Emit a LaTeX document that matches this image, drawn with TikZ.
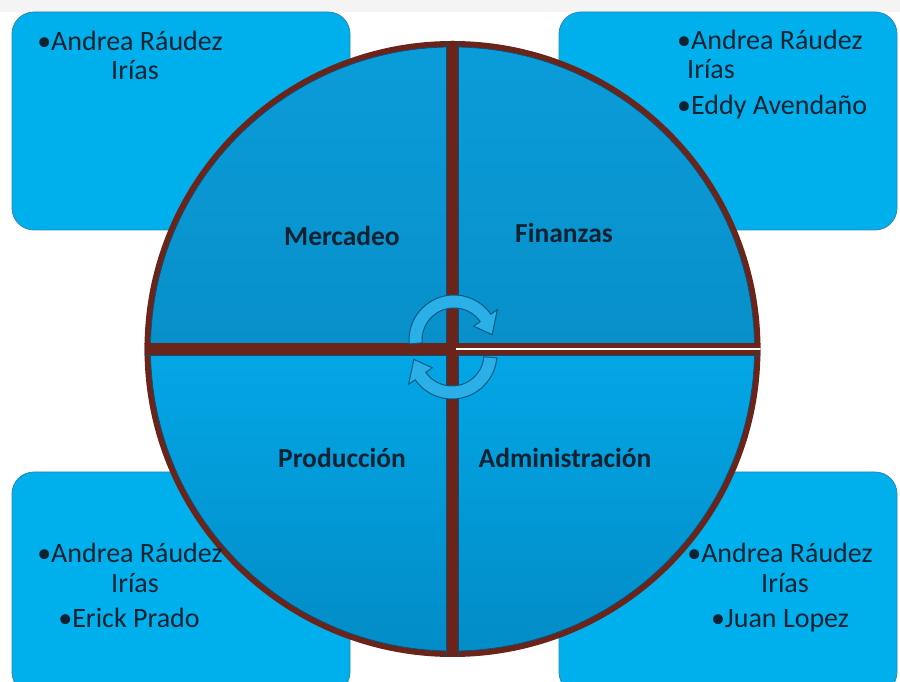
\documentclass[tikz,border=0pt]{standalone}
\usepackage{fontspec}
\setmainfont{Carlito}
\usetikzlibrary{calc}
\definecolor{boxblue}{HTML}{00B0EC}
\definecolor{boxline}{HTML}{2A86B4}
\definecolor{ringbrown}{HTML}{6B2419}
\definecolor{qtopA}{HTML}{0A9DDA}
\definecolor{qtopB}{HTML}{0890CA}
\definecolor{qbotA}{HTML}{03A6E6}
\definecolor{qbotB}{HTML}{028BC5}
\definecolor{qline}{HTML}{0B4F78}
\definecolor{arrowblue}{HTML}{2AB0E6}
\definecolor{arrowline}{HTML}{0A5A85}
\definecolor{textdark}{HTML}{0E2231}
\definecolor{topgray}{HTML}{F4F4F4}
\tikzset{
  namebox/.style={fill=boxblue, draw=boxline, line width=0.8pt, rounded corners=22pt},
  nametext/.style={anchor=base, inner sep=0pt, text=textdark, font=\fontsize{28}{30}\selectfont},
  areatext/.style={anchor=base, inner sep=0pt, text=textdark, font=\fontsize{27.5}{30}\selectfont\bfseries},
  cyclearrow/.style={fill=arrowblue, draw=arrowline, line width=1pt},
  arrowshadow/.style={fill=arrowline, opacity=0.75},
}
\begin{document}
\begin{tikzpicture}[x=1pt,y=1pt]
\useasboundingbox (0,0) rectangle (900,682);
\fill[white] (0,0) rectangle (900,682);
\fill[topgray] (0,670) rectangle (900,682);

% name boxes
\begin{scope}
\clip (0,0) rectangle (900,682);
\path[namebox] (12,452) rectangle (350,670);
\path[namebox] (559,452) rectangle (897,670);
\path[namebox] (12,-12) rectangle (350,210);
\path[namebox] (559,-12) rectangle (897,210);
\end{scope}

% circle
\coordinate (C) at (452.5,333);
\fill[ringbrown] (C) circle[radius=308pt];

% quadrants
\begin{scope}
\clip (C) circle[radius=302pt];
\shade[top color=qtopA, bottom color=qtopB] (130,339) rectangle (447,650);
\shade[top color=qtopA, bottom color=qtopB] (458,339) rectangle (775,650);
\shade[top color=qbotA, bottom color=qbotB] (130,15) rectangle (447,327);
\shade[top color=qbotA, bottom color=qbotB] (458,15) rectangle (775,327);
\end{scope}
\draw[qline, line width=0.7pt] (C) circle[radius=302pt];
\begin{scope}
\clip (C) circle[radius=308pt];
\draw[qline, line width=0.7pt] (130,339) -| (446.5,650) (458.5,650) |- (775,339)
  (130,327) -| (446.5,15) (458.5,15) |- (775,327);
\fill[ringbrown] (447,0) rectangle (458,682);
\fill[ringbrown] (130,327) rectangle (780,339);
\draw[white, line width=1.6pt] (456,333) -- (780,333);
\end{scope}

% cycle arrows
\coordinate (C1) at (454,342);
\coordinate (C2) at (452,328);
\begin{scope}[shift={(2.5,-2.5)}]
\path[arrowshadow] ($(C1)+(185:45pt)$) arc[start angle=185, end angle=35, radius=45pt]
  -- ($(C1)+(35:53pt)$) -- ($(C1)+(8:38.5pt)$) -- ($(C1)+(35:24pt)$) -- ($(C1)+(35:32pt)$)
  arc[start angle=35, end angle=185, radius=32pt] -- cycle;
\path[arrowshadow] ($(C2)+(-5:45pt)$) arc[start angle=-5, end angle=-145, radius=45pt]
  -- ($(C2)+(-145:53pt)$) -- ($(C2)+(-172:38.5pt)$) -- ($(C2)+(-145:24pt)$) -- ($(C2)+(-145:32pt)$)
  arc[start angle=-145, end angle=-5, radius=32pt] -- cycle;
\end{scope}
\path[cyclearrow] ($(C1)+(185:45pt)$) arc[start angle=185, end angle=35, radius=45pt]
  -- ($(C1)+(35:53pt)$) -- ($(C1)+(8:38.5pt)$) -- ($(C1)+(35:24pt)$) -- ($(C1)+(35:32pt)$)
  arc[start angle=35, end angle=185, radius=32pt] -- cycle;
\path[cyclearrow] ($(C2)+(-5:45pt)$) arc[start angle=-5, end angle=-145, radius=45pt]
  -- ($(C2)+(-145:53pt)$) -- ($(C2)+(-172:38.5pt)$) -- ($(C2)+(-145:24pt)$) -- ($(C2)+(-145:32pt)$)
  arc[start angle=-145, end angle=-5, radius=32pt] -- cycle;

% area labels
\node[areatext] (mercadeo) at (342,436) {Mercadeo};
\node[areatext] (finanzas) at (564,439) {Finanzas};
\node[areatext] (produccion) at (342,214) {Producción};
\node[areatext] (administracion) at (565,214) {Administración};

% names: top left
\node[nametext] (tl1) at (130,631) {•Andrea Ráudez};
\node[nametext] (tl2) at (135,602) {Irías};
% top right
\node[nametext, anchor=base west] (tr1) at (677,632) {•Andrea Ráudez};
\node[nametext, anchor=base west] (tr2) at (687,603) {Irías};
\node[nametext, anchor=base west] (tr3) at (677,567) {•Eddy Avendaño};
% bottom left
\node[nametext] (bl1) at (130,119) {•Andrea Ráudez};
\node[nametext] (bl2) at (135,89) {Irías};
\node[nametext] (bl3) at (129,54) {•Erick Prado};
% bottom right
\node[nametext] (br1) at (780,119) {•Andrea Ráudez};
\node[nametext] (br2) at (785,89) {Irías};
\node[nametext] (br3) at (780,54) {•Juan Lopez};
\end{tikzpicture}
\end{document}
